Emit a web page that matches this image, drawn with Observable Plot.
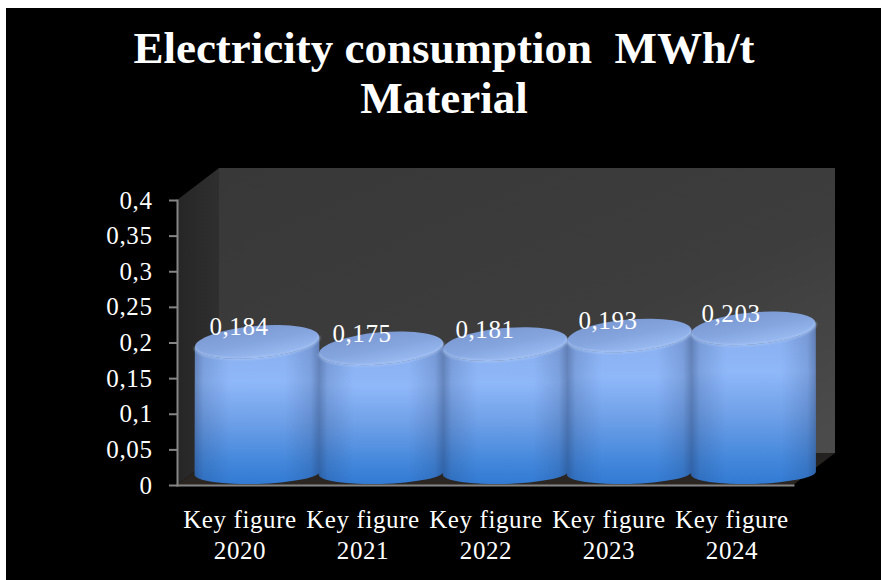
<!DOCTYPE html>
<html>
<head>
<meta charset="utf-8">
<script src="https://cdn.jsdelivr.net/npm/d3@7"></script>
<script src="https://cdn.jsdelivr.net/npm/@observablehq/plot@0.6"></script>
<style>
  html, body { margin: 0; padding: 0; background: #fff; overflow: hidden; }
  #page { position: absolute; left: 6px; top: 8px; width: 875px; height: 572px; background: #000; }
  h1 {
    margin: 0; height: 120px; padding-top: 15px; box-sizing: border-box; width: 876px;
    text-align: center; color: #fff; font: bold 45px/50px "Liberation Serif", serif;
    white-space: pre;
  }
  svg { display: block; }
</style>
</head>
<body>
<div id="page">
  <h1>Electricity consumption  MWh/t
Material</h1>
</div>
<script>
const categories = ["Key figure\n2020", "Key figure\n2021", "Key figure\n2022", "Key figure\n2023", "Key figure\n2024"];
const values = [0.184, 0.175, 0.181, 0.193, 0.203];
const yTicks = [0, 0.05, 0.1, 0.15, 0.2, 0.25, 0.3, 0.35, 0.4];
const table = categories.map((category, i) => ({category, value: values[i]}));

const comma = (v) => String(v).replace(".", ",");
const SERIF = "Liberation Serif";
const GREY = "#858585";

// Depth of the 3D box, in pixels
const depth = {x: 42, y: -32};

const svgEl = (name, attrs = {}) => {
  const el = document.createElementNS("http://www.w3.org/2000/svg", name);
  for (const k in attrs) el.setAttribute(k, attrs[k]);
  return el;
};
const addGradient = (defs, id, x2, y2, stops) => {
  const g = svgEl("linearGradient", {id, x1: 0, y1: 0, x2, y2});
  for (const [offset, color, opacity = 1] of stops) {
    g.append(svgEl("stop", {offset, "stop-color": color, "stop-opacity": opacity}));
  }
  defs.append(g);
};

// Back wall, side wall and floor of the chart box
const box = (index, {x, y}) => {
  const g = svgEl("g");
  const defs = svgEl("defs");
  addGradient(defs, "wall", 0.9, 1, [[0, "#383838"], [0.6, "#3d3d3d"], [1, "#4b4b4b"]]);
  addGradient(defs, "side", 1, 0, [[0, "#262626"], [1, "#2f2f2f"]]);
  addGradient(defs, "floor", 0, 1, [[0, "#232120"], [1, "#2c2622"]]);
  g.append(defs);
  const [x0, x1] = x.range();
  const [y0, y1] = y.range();
  const X = x0 + depth.x, Xr = x1 + depth.x, Y0 = y0 + depth.y, Y1 = y1 + depth.y;
  const poly = (points, fill) =>
    g.append(svgEl("polygon", {points: points.map((p) => p.join(",")).join(" "), fill}));
  poly([[X, Y1], [Xr, Y1], [Xr, Y0], [X, Y0]], "url(#wall)");
  poly([[x0, y1], [X, Y1], [X, Y0], [x0, y0]], "url(#side)");
  poly([[x0, y0], [X, Y0], [Xr, Y0], [x1, y0]], "url(#floor)");
  return g;
};

// A tilted elliptical cylinder for each value, standing on the box floor
const cylinders = (index, {x, y}) => {
  const g = svgEl("g");
  const defs = svgEl("defs");
  addGradient(defs, "body", 0, 1, [[0, "#88acec"], [0.3, "#8fb8f9"], [0.55, "#72a2e9"], [0.85, "#4387db"], [1, "#327ad3"]]);
  addGradient(defs, "shade", 1, 0, [
    [0, "#1c2f58", 0.38], [0.07, "#1c2f58", 0.16], [0.28, "#1c2f58", 0], [0.72, "#1c2f58", 0],
    [0.93, "#1c2f58", 0.16], [1, "#1c2f58", 0.38]
  ]);
  addGradient(defs, "cap", 0.4, 1, [[0, "#7997d1"], [0.6, "#85a5df"], [1, "#97b7ef"]]);
  const blur = svgEl("filter", {id: "soft"});
  blur.append(svgEl("feGaussianBlur", {stdDeviation: 0.8}));
  defs.append(blur);
  g.append(defs);

  const band = x.bandwidth();
  const rx = band / 2 + 0.9;
  const topRy = 16, baseRy = 11;
  const topTilt = 5, baseTilt = 1.5;
  const lift = 12; // the ellipse centres sit this far above the scale position
  const spread = 1.009; // cylinders stand further back, so they fan out slightly
  const x0 = x.range()[0];
  for (const i of index) {
    const d = table[i];
    const cx = x0 + (x(d.category) + band / 2 - x0) * spread + 17;
    const topY = y(d.value) - lift;
    const baseY = y(0) - lift;
    const t = topTilt * Math.PI / 180, b = baseTilt * Math.PI / 180;
    const tl = [cx - rx * Math.cos(t), topY + rx * Math.sin(t)];
    const tr = [cx + rx * Math.cos(t), topY - rx * Math.sin(t)];
    const bl = [cx - rx * Math.cos(b), baseY + rx * Math.sin(b)];
    const br = [cx + rx * Math.cos(b), baseY - rx * Math.sin(b)];
    const side = `M${tl} A${rx} ${topRy} ${-topTilt} 0 0 ${tr} L${br} A${rx} ${baseRy} ${-baseTilt} 0 1 ${bl} Z`;
    g.append(svgEl("path", {d: side, fill: "url(#body)"}));
    g.append(svgEl("path", {d: side, fill: "url(#shade)"}));
    g.append(svgEl("ellipse", {
      cx, cy: topY, rx, ry: topRy, fill: "url(#cap)",
      transform: `rotate(${-topTilt} ${cx} ${topY})`
    }));
    g.append(svgEl("path", {
      d: `M${tl} A${rx} ${topRy} ${-topTilt} 0 0 ${tr}`,
      fill: "none", stroke: "#b4d0fb", "stroke-width": 1.6, "stroke-opacity": 0.75, filter: "url(#soft)"
    }));
  }
  return g;
};

const chart = Plot.plot({
  width: 875,
  height: 452,
  marginTop: 72,
  marginBottom: 95,
  marginLeft: 171,
  marginRight: 88,
  style: {background: "#000", color: "#fff", fontFamily: SERIF, fontSize: "25px", letterSpacing: "0.6px", overflow: "visible"},
  x: {type: "band", domain: categories, padding: 0, axis: null},
  y: {domain: [0, 0.4], axis: null},
  marks: [
    Plot.barY(table, {x: "category", y: "value", render: box}),
    Plot.axisY({
      ticks: yTicks, tickFormat: comma, tickSize: 8, tickPadding: 17, stroke: GREY,
      strokeWidth: 2, fill: "#fff", fontSize: 25, label: null
    }),
    Plot.axisX({
      tickSize: 0, tickPadding: 20, fill: "#fff", fontSize: 25, lineHeight: 1.25, label: null
    }),
    Plot.frame({anchor: "left", stroke: GREY, strokeWidth: 2}),
    Plot.frame({anchor: "bottom", stroke: GREY, strokeWidth: 2}),
    Plot.barY(table, {x: "category", y: "value", render: cylinders}),
    Plot.text(table, {
      x: "category", y: "value", text: (d) => comma(d.value), fill: "#fff", fontSize: 25,
      lineAnchor: "bottom", dy: -19, dx: -1
    })
  ]
});
document.getElementById("page").append(chart);
</script>
</body>
</html>
